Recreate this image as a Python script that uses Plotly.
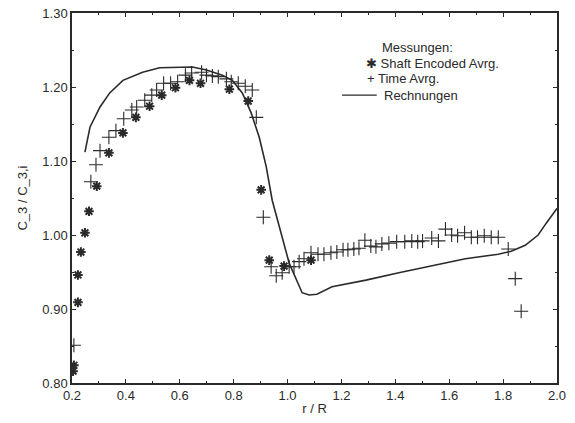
import plotly.graph_objects as go

# Shaft Encoded Avrg. (asterisks)
shaft_x = [0.204, 0.207, 0.222, 0.222, 0.233, 0.248, 0.263, 0.292, 0.337, 0.389, 0.437,
           0.488, 0.533, 0.584, 0.636, 0.677, 0.784, 0.854, 0.902, 0.932, 0.987, 1.087]
shaft_y = [0.816, 0.824, 0.909, 0.946, 0.977, 1.003, 1.032, 1.066, 1.111, 1.138, 1.159,
           1.174, 1.189, 1.199, 1.209, 1.205, 1.197, 1.181, 1.061, 0.966, 0.958, 0.966]

# Time Avrg. (plus)
time_x = [0.207, 0.270, 0.289, 0.304, 0.337, 0.363, 0.392, 0.422, 0.440, 0.470, 0.496,
          0.514, 0.540, 0.566, 0.592, 0.621, 0.644, 0.681, 0.699, 0.721, 0.743, 0.773,
          0.791, 0.817, 0.843, 0.869, 0.884, 0.910,
          0.939, 0.958, 0.980, 1.006, 1.024, 1.043, 1.061, 1.087, 1.113, 1.135, 1.161,
          1.183, 1.206, 1.224, 1.246, 1.265, 1.287, 1.309, 1.328, 1.350, 1.376, 1.405,
          1.435, 1.461, 1.483, 1.501, 1.535, 1.560, 1.586, 1.609, 1.631, 1.657, 1.682,
          1.705, 1.730, 1.756, 1.782, 1.819, 1.845, 1.867]
time_y = [0.851, 1.072, 1.095, 1.114, 1.132, 1.141, 1.157, 1.169, 1.173, 1.182, 1.189,
          1.196, 1.205, 1.205, 1.207, 1.216, 1.219, 1.220, 1.216, 1.215, 1.214, 1.211,
          1.207, 1.205, 1.201, 1.196, 1.159, 1.024,
          0.957, 0.945, 0.949, 0.957, 0.957, 0.964, 0.968, 0.976, 0.974, 0.974, 0.976,
          0.977, 0.980, 0.980, 0.981, 0.982, 0.993, 0.985, 0.984, 0.988, 0.989, 0.991,
          0.991, 0.992, 0.991, 0.992, 0.996, 0.992, 1.008, 1.000, 0.999, 1.003, 0.997,
          0.997, 0.999, 0.997, 0.997, 0.981, 0.941, 0.897]

# Rechnungen (computed line)
calc_x = [0.248, 0.267, 0.304, 0.340, 0.389, 0.462, 0.525, 0.599, 0.647, 0.699, 0.758,
          0.795, 0.832, 0.865, 0.895, 0.921, 0.943, 1.006, 1.054, 1.080, 1.109, 1.165,
          1.291, 1.413, 1.535, 1.660, 1.782, 1.830, 1.882, 1.930, 1.960, 2.000]
calc_y = [1.112, 1.146, 1.173, 1.192, 1.209, 1.220, 1.226, 1.227, 1.227, 1.223, 1.216,
          1.209, 1.192, 1.165, 1.132, 1.092, 1.047, 0.962, 0.922, 0.919, 0.920, 0.930,
          0.939, 0.949, 0.958, 0.968, 0.974, 0.978, 0.986, 1.000, 1.016, 1.036]

x_ticks = [0.2, 0.4, 0.6, 0.8, 1.0, 1.2, 1.4, 1.6, 1.8, 2.0]
x_labels = ["0.2", "0.4", "0.6", "0.8", "1.0", "1.2", "1.4", "1.6", "1.8", "2.0"]
y_ticks = [0.80, 0.90, 1.00, 1.10, 1.20, 1.30]
y_labels = ["0.80", "0.90", "1.00", "1.10", "1.20", "1.30"]

legend_title = "Messungen:"
legend_shaft = "✱ Shaft Encoded Avrg."
legend_time = "+ Time Avrg."
legend_calc = "Rechnungen"

ink = "#2a2a2a"
font = "Liberation Sans, Arial, sans-serif"
fs = 13

fig = go.Figure()
fig.add_trace(go.Scatter(x=calc_x, y=calc_y, mode="lines", name=legend_calc,
                         line=dict(color=ink, width=1.6)))
fig.add_trace(go.Scatter(x=shaft_x, y=shaft_y, mode="markers", name="Shaft Encoded Avrg.",
                         marker=dict(symbol="asterisk-open", size=8, color=ink,
                                     line=dict(color=ink, width=2))))
fig.add_trace(go.Scatter(x=time_x, y=time_y, mode="markers", name="Time Avrg.",
                         marker=dict(symbol="cross-thin-open", size=10, color=ink,
                                     line=dict(color=ink, width=1.1))))

axis_common = dict(showgrid=False, zeroline=False, showline=True, linecolor=ink,
                   linewidth=1.5, mirror="allticks", ticks="inside", ticklen=4,
                   tickcolor=ink, automargin=False,
                   tickfont=dict(family=font, size=fs, color=ink))
fig.update_xaxes(range=[0.2, 2.0], tickvals=x_ticks, ticktext=x_labels,
                 minor=dict(dtick=0.1, ticks="inside", ticklen=2, tickcolor=ink),
                 title=dict(text="r / R", font=dict(family=font, size=fs, color=ink),
                            standoff=2),
                 **axis_common)
fig.update_yaxes(range=[0.80, 1.30], tickvals=y_ticks, ticktext=y_labels,
                 minor=dict(dtick=0.05, ticks="inside", ticklen=2, tickcolor=ink),
                 title=dict(text="C_3 / C_3,i", font=dict(family=font, size=fs, color=ink),
                            standoff=12),
                 **axis_common)

legend_items = [
    (1.350, 1.254, legend_title),
    (1.291, 1.232, legend_shaft),
    (1.294, 1.211, legend_time),
    (1.357, 1.189, legend_calc),
]
for xs, yv, txt in legend_items:
    fig.add_annotation(x=xs, y=yv, xref="x", yref="y", text=txt, showarrow=False,
                       xanchor="left", yanchor="middle", xshift=-2,
                       font=dict(family=font, size=fs, color=ink))
fig.add_shape(type="line", xref="x", yref="y", x0=1.202, x1=1.331, y0=1.189, y1=1.189,
              line=dict(color=ink, width=1.4))

fig.update_layout(width=575, height=423, showlegend=False, template="none",
                  margin=dict(l=72, r=18, t=13, b=40),
                  plot_bgcolor="white", paper_bgcolor="white")

fig.write_html("out.html", config={"displayModeBar": False},
               post_script="document.body.style.margin='0';")
